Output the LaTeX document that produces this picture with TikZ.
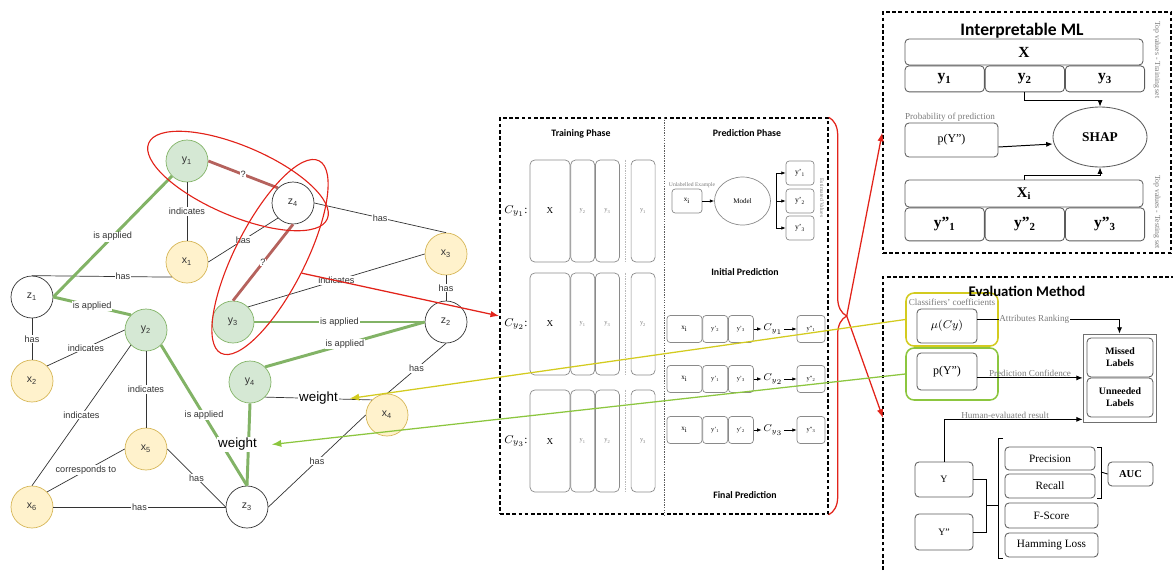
\documentclass[tikz,border=0pt]{standalone}
\usepackage{fontspec}
\setmainfont{Liberation Serif}
\setsansfont{Liberation Sans}
\newfontfamily\headfont{Carlito}
\usepackage{amsmath}
\usetikzlibrary{arrows.meta,calc,positioning,shapes.geometric,decorations.pathreplacing}
\definecolor{LabelGreen}{HTML}{D5E8D4}
\definecolor{EdgeGreen}{HTML}{82B366}
\definecolor{FeatYellow}{HTML}{FFF2CC}
\definecolor{RimYellow}{HTML}{D6B656}
\definecolor{QueryBrown}{HTML}{B5625D}
\definecolor{MarkRed}{HTML}{E2231A}
\definecolor{CoefYellow}{HTML}{D3CB1F}
\definecolor{ConfGreen}{HTML}{8CC63F}
\definecolor{Ink}{HTML}{333333}
\definecolor{BoxGray}{HTML}{8A8A8A}
\definecolor{NoteGray}{HTML}{7A7A7A}
\newcommand{\sizept}[1]{\fontsize{#1}{1.2\dimexpr #1pt\relax}\selectfont}
\tikzset{
  every picture/.style={line width=0.5pt},
  gnode/.style={circle, draw=Ink, fill=white, minimum size=10.5mm, inner sep=0pt,
    text=Ink, font=\sffamily\sizept{7.5}},
  labnode/.style={gnode, draw=EdgeGreen, fill=LabelGreen},
  featnode/.style={gnode, draw=RimYellow, fill=FeatYellow},
  rel/.style={draw=Ink, line width=0.5pt},
  applied/.style={draw=EdgeGreen, line width=2.1pt},
  query/.style={draw=QueryBrown, line width=2pt},
  edgelabel/.style={font=\sffamily\sizept{6.5}, text=Ink, fill=white, inner sep=0.5pt},
  weightlabel/.style={font=\sffamily\sizept{9.5}, fill=white, inner sep=1pt},
  grouping/.style={ellipse, draw=MarkRed, line width=0.8pt, inner sep=0pt},
  markarrow/.style={draw=MarkRed, line width=0.9pt, -{Latex[length=2.2mm, width=1.6mm]}},
  markbrace/.style={draw=MarkRed, line width=0.9pt, decorate, decoration={brace, amplitude=4.5mm}},
  panel/.style={draw, line width=1pt, dash pattern=on 2.6pt off 1.8pt, inner sep=0pt},
  divider/.style={draw=Ink!80, line width=0.5pt, dash pattern=on 1pt off 0.8pt},
  phasetitle/.style={font=\headfont\bfseries\sizept{7}},
  colbox/.style={draw=BoxGray, rounded corners=1.2mm, minimum height=25.5mm, inner sep=0pt},
  featcol/.style={colbox, minimum width=10mm, font=\sizept{6.5}},
  labcol/.style={colbox, minimum width=6mm, text=NoteGray, font=\sizept{4.5}},
  colsep/.style={draw=BoxGray!60, line width=0.4pt, dash pattern=on 0.6pt off 0.6pt},
  cname/.style={font=\sizept{8}},
  predbox/.style={draw=BoxGray, rounded corners=0.8mm, minimum height=6.75mm,
    minimum width=6.25mm, inner sep=0pt, font=\sizept{4.5}},
  tinynote/.style={font=\sizept{4}, text=NoteGray, inner sep=0.5pt},
  tinyarrow/.style={-{Latex[length=1.1mm, width=0.9mm]}, line width=0.5pt},
  cellbox/.style={draw=Ink!80, rounded corners=1mm, inner sep=0pt, line width=0.6pt,
    font=\bfseries\sizept{11}},
  flow/.style={-{Latex[length=1.6mm, width=1.3mm]}, line width=0.7pt},
  notelabel/.style={font=\sizept{6.5}, text=NoteGray, inner sep=0.5pt},
  evalbox/.style={draw=Ink!80, rounded corners=1mm, inner sep=0pt, line width=0.6pt,
    font=\sizept{8}},
  hilitebox/.style={rounded corners=2mm, line width=1.1pt, inner sep=0pt},
  coefarrow/.style={draw=CoefYellow, line width=0.9pt, -{Latex[length=2.4mm, width=1.8mm]}},
  confarrow/.style={draw=ConfGreen, line width=0.9pt, -{Latex[length=2.4mm, width=1.8mm]}}
}
\begin{document}
\begin{tikzpicture}[x=0.25mm, y=-0.25mm]
  \useasboundingbox (0,0) rectangle (1173,570);

  % knowledge graph
  \node[labnode] (y1) at (187,161) {y\textsubscript{1}};
  \node[gnode] (z4) at (293,203) {z\textsubscript{4}};
  \node[featnode] (x1) at (187,262) {x\textsubscript{1}};
  \node[featnode] (x3) at (446,254) {x\textsubscript{3}};
  \node[gnode] (z1) at (32,297) {z\textsubscript{1}};
  \node[labnode] (y2) at (146,330) {y\textsubscript{2}};
  \node[labnode] (y3) at (233,322) {y\textsubscript{3}};
  \node[gnode] (z2) at (446,322) {z\textsubscript{2}};
  \node[featnode] (x2) at (32,381) {x\textsubscript{2}};
  \node[labnode] (y4) at (250,382) {y\textsubscript{4}};
  \node[featnode] (x4) at (387,415) {x\textsubscript{4}};
  \node[featnode] (x5) at (146,449) {x\textsubscript{5}};
  \node[gnode] (z3) at (247,507) {z\textsubscript{3}};
  \node[featnode] (x6) at (32,507) {x\textsubscript{6}};

  \draw[rel] (y1) -- node[edgelabel] {indicates} (x1);
  \draw[rel] (z1.north) -- node[edgelabel, pos=0.65] {has} (x1.south west);
  \draw[rel] (x1.east) -- node[edgelabel] {has} (z4.south west);
  \draw[rel] (z4.east) -- node[edgelabel] {has} (x3.north);
  \draw[rel] (y3.north east) -- node[edgelabel] {indicates} (x3.west);
  \draw[rel] (x3) -- node[edgelabel] {has} (z2);
  \draw[rel] (z1) -- node[edgelabel] {has} (x2);
  \draw[rel] (y2.west) -- node[edgelabel] {indicates} (x2.north east);
  \draw[rel] (y2) -- node[edgelabel] {indicates} (x5);
  \draw[rel] (y2.south west) -- node[edgelabel] {indicates} (x6.north);
  \draw[rel] (x5.west) -- node[edgelabel] {corresponds to} (x6.north east);
  \draw[rel] (x5.east) -- node[edgelabel] {has} (z3.west);
  \draw[rel] (x6) -- node[edgelabel] {has} (z3);
  \draw[rel] (z2.south) -- node[edgelabel] {has} (x4.north);
  \draw[rel] (x4.west) -- node[edgelabel] {has} (z3.east);
  \draw[rel] (y4.south east) -- node[weightlabel] (w1) {weight} (x4.north west);

  \draw[applied] (z1.east) -- node[edgelabel] {is applied} (y1.south west);
  \draw[applied] (z1.east) -- node[edgelabel] {is applied} (y2.north west);
  \draw[applied] (y2.south east) -- node[edgelabel] {is applied} (z3.north);
  \draw[applied] (y3.east) -- node[edgelabel] {is applied} (z2.west);
  \draw[applied] (y4.north east) -- node[edgelabel] {is applied} (z2.west);
  \draw[applied] (y4.south) -- node[weightlabel, xshift=-2.75mm] (w2) {weight} (z3.north);

  \draw[query] (y1.east) -- node[edgelabel] {?} (z4.north west);
  \draw[query] (z4.south) -- node[edgelabel] {?} (y3.north);

  \node[grouping, minimum width=48.5mm, minimum height=17.5mm, rotate=-23] (grp1) at (238,181) {};
  \node[grouping, minimum width=54mm, minimum height=17.5mm, rotate=63] (grp2) at (270,257) {};

  % training and prediction
  \node[panel, minimum width=82mm, minimum height=99mm] (mlpanel) at (664,316) {};
  \draw[divider] (mlpanel.north) -- (mlpanel.south);
  \draw[markarrow] (grp2.south) -- (mlpanel.west);

  \node[phasetitle] (traintitle) at (581,134) {Training Phase};
  \node[phasetitle] (predtitle) at (747,133) {Prediction Phase};
  \node[phasetitle] (inittitle) at (745,272) {Initial Prediction};
  \node[phasetitle] (finaltitle) at (745,495) {Final Prediction};

  \foreach \k/\rowy/\la/\lb/\lc in {1/211/2/3/1, 2/324/1/3/2, 3/441/1/2/3} {
    \node[cname] (cl\k) at (516,\rowy) {$C_{y_\k}$:};
    \node[featcol] (tx\k) at (550,\rowy) {X};
    \node[labcol, right=0pt of tx\k] (ta\k) {y\textsubscript{\la}};
    \node[labcol, right=0pt of ta\k] (tb\k) {y\textsubscript{\lb}};
    \node[labcol, right=2.75mm of tb\k] (tc\k) {y\textsubscript{\lc}};
    \draw[colsep] ($(tb\k.north east)!0.5!(tc\k.north west)$) -- ($(tb\k.south east)!0.5!(tc\k.south west)$);
  }

  \node[tinynote] (unlab) at (692,185) {Unlabelled Example};
  \node[predbox, minimum width=7.5mm, minimum height=6mm, font=\sizept{5}] (xin) at (687,201) {x\textsubscript{i}};
  \node[draw=BoxGray, ellipse, minimum width=14mm, minimum height=12mm, inner sep=0pt,
    font=\sizept{5}] (model) at (742.5,201) {Model};
  \coordinate (fork) at (776,201);
  \node[predbox, minimum width=7mm, minimum height=6mm, font=\sizept{5.5}] (yp1) at (800,173) {y'\textsubscript{1}};
  \node[predbox, minimum width=7mm, minimum height=6mm, font=\sizept{5.5}] (yp2) at (800,201) {y'\textsubscript{2}};
  \node[predbox, minimum width=7mm, minimum height=6mm, font=\sizept{5.5}] (yp3) at (800,228) {y'\textsubscript{3}};
  \node[tinynote, rotate=-90] (estnote) at (822,198) {Estimated Values};
  \draw[tinyarrow] (xin) -- (model);
  \draw[double, double distance=0.8pt, line width=0.4pt] (model.east) -- (fork);
  \draw (fork |- yp1) -- (fork |- yp3);
  \foreach \k in {1,2,3}
    \draw[tinyarrow] (fork |- yp\k) -- (yp\k.west);

  \foreach \k/\rowy/\la/\lb in {1/329/2/3, 2/379/1/3, 3/430/1/2} {
    \node[predbox, minimum width=8.75mm, font=\sizept{5}] (px\k) at (684.5,\rowy) {x\textsubscript{i}};
    \node[predbox, right=0pt of px\k] (pa\k) {y'\textsubscript{\la}};
    \node[predbox, right=0pt of pa\k] (pb\k) {y'\textsubscript{\lb}};
    \node[font=\sizept{7}, inner sep=1pt] (pc\k) at (773,\rowy) {$C_{y_\k}$};
    \node[predbox, minimum width=7mm] (pd\k) at (811,\rowy) {y''\textsubscript{\k}};
    \draw[tinyarrow] (pb\k.east) -- (pc\k.west);
    \draw[tinyarrow] (pc\k.east) -- (pd\k.west);
  }

  \draw[markbrace] (mlpanel.north east) -- (mlpanel.south east);
  \coordinate (bracetip) at ([xshift=4.5mm]mlpanel.east);

  % interpretable ML
  \node[panel, minimum width=72mm, minimum height=60.25mm] (shappanel) at (1027,132.5) {};
  \node[font=\headfont\bfseries\sizept{12.5}] (shaptitle) at (1022,31) {Interpretable ML};
  \node[cellbox, minimum width=59.5mm, minimum height=6.5mm] (trx) at (1024,52) {X};
  \node[cellbox, minimum width=19.83mm, minimum height=6.5mm, anchor=north west] (try1) at (trx.south west) {y\textsubscript{1}};
  \node[cellbox, minimum width=19.83mm, minimum height=6.5mm, right=0pt of try1] (try2) {y\textsubscript{2}};
  \node[cellbox, minimum width=19.83mm, minimum height=6.5mm, right=0pt of try2] (try3) {y\textsubscript{3}};
  \node[notelabel, rotate=-90, font=\sizept{5.5}] (trainnote) at (1157,60) {Top values - Training set};
  \node[notelabel] (probnote) at (950,117) {Probability of prediction};
  \node[cellbox, minimum width=23.25mm, minimum height=8.5mm, font=\sizept{8.5}] (pyt) at (951.5,140) {p(Y'')};
  \node[draw=Ink!80, ellipse, line width=0.6pt, minimum width=23.5mm, minimum height=15mm,
    inner sep=0pt, font=\bfseries\sizept{9.5}] (shap) at (1100,137) {SHAP};
  \node[cellbox, minimum width=59.5mm, minimum height=6.75mm, font=\bfseries\sizept{10.5}] (trxi) at (1024,193.5) {X\textsubscript{i}};
  \node[cellbox, minimum width=19.83mm, minimum height=8.25mm, anchor=north west] (tey1) at (trxi.south west) {y''\textsubscript{1}};
  \node[cellbox, minimum width=19.83mm, minimum height=8.25mm, right=0pt of tey1] (tey2) {y''\textsubscript{2}};
  \node[cellbox, minimum width=19.83mm, minimum height=8.25mm, right=0pt of tey2] (tey3) {y''\textsubscript{3}};
  \node[notelabel, rotate=-90, font=\sizept{5.5}] (testnote) at (1157,212) {Top values - Testing set};
  \draw[flow] (try2.south) -- ++(0,8) -| (shap.north);
  \draw[flow] ([yshift=-1.75mm]pyt.east) -- ([yshift=-1.75mm]shap.west);
  \draw[flow] (trxi.north) -- ++(0,-4) -| (shap.south);

  % evaluation
  \draw[panel] (883,570) |- (1173,277);
  \coordinate (evalleft) at (883,418);
  \node[hilitebox, draw=CoefYellow, minimum width=23mm, minimum height=13.25mm] (coefframe) at (952,319.5) {};
  \node[hilitebox, draw=ConfGreen, minimum width=23mm, minimum height=13mm] (confframe) at (952,374) {};
  \node[font=\headfont\bfseries\sizept{10.5}] (evaltitle) at (1027,291) {Evaluation Method};
  \node[notelabel] (coefnote) at (952,302) {Classifiers' coefficients};
  \node[evalbox, minimum width=15mm, minimum height=8.5mm, font=\sizept{8.5}] (mubox) at (947,326) {$\mu(Cy)$};
  \node[evalbox, minimum width=15mm, minimum height=9.25mm, font=\sizept{8.5}] (pconf) at (947,371.5) {p(Y'')};
  \node[draw=Ink!70, minimum width=18.25mm, minimum height=22mm, inner sep=0pt] (lblframe) at (1119.5,378) {};
  \node[evalbox, minimum width=16.5mm, minimum height=9.75mm, align=center, font=\bfseries\sizept{7}] (missed) at (1120,357.5) {Missed\\Labels};
  \node[evalbox, minimum width=16.5mm, minimum height=9.75mm, align=center, font=\bfseries\sizept{7}] (unneeded) at (1120,397.5) {Unneeded\\Labels};
  \draw[flow] ([yshift=1.75mm]mubox.east) -- node[notelabel, fill=white, pos=0.4] {Attributes Ranking}
    ([yshift=1.75mm]mubox.east -| lblframe.north) -- (lblframe.north);
  \draw[flow] ([yshift=-1.6mm]pconf.east) -- node[notelabel, above=0pt] {Prediction Confidence}
    ([yshift=-1.6mm]pconf.east -| lblframe.west);

  \node[evalbox, minimum width=14.5mm, minimum height=8.75mm, font=\sizept{7}] (ytrue) at (944,479.5) {Y};
  \node[evalbox, minimum width=14.5mm, minimum height=9mm, font=\sizept{7}] (ypred) at (944,532) {Y''};
  \draw[flow] (ytrue.north) |- node[notelabel, above=0pt, pos=0.72] {Human-evaluated result}
    ([yshift=0.75mm]lblframe.south west);

  \node[evalbox, minimum width=22.5mm, minimum height=5.75mm] (prec) at (1050,458.5) {Precision};
  \node[evalbox, minimum width=22.5mm, minimum height=6mm] (rec) at (1050,486) {Recall};
  \node[evalbox, minimum width=23.25mm, minimum height=6.25mm] (fsc) at (1051.5,515.5) {F-Score};
  \node[evalbox, minimum width=23.25mm, minimum height=6mm] (ham) at (1051.5,545) {Hamming Loss};
  \node[evalbox, minimum width=11.25mm, minimum height=6mm, font=\bfseries\sizept{7.5}] (auc) at (1130.5,474) {AUC};
  \coordinate (pairjoin) at (986,505);
  \coordinate (metricjoin) at (998,505);
  \coordinate (aucjoin) at (1101,472);
  \draw[line width=0.6pt] (ytrue.east) -| (pairjoin) |- (ypred.east);
  \draw[line width=0.6pt] (pairjoin) -- (metricjoin);
  \draw[line width=0.6pt] (1003,438) -- (998,438) -- (998,558) -- (1003,558);
  \draw[line width=0.6pt] (1097,447) -- (1101,447) -- (1101,498) -- (1097,498);
  \draw[line width=0.6pt] (aucjoin) -- (auc.west);

  % links between parts
  \draw[markarrow] (bracetip) -- (shappanel.west);
  \draw[markarrow] (bracetip) -- (evalleft);
  \draw[coefarrow] (coefframe.west) -- ([xshift=2.5mm]w1.east);
  \draw[confarrow] (confframe.west) -- ([xshift=3mm]w2.east);
\end{tikzpicture}
\end{document}
